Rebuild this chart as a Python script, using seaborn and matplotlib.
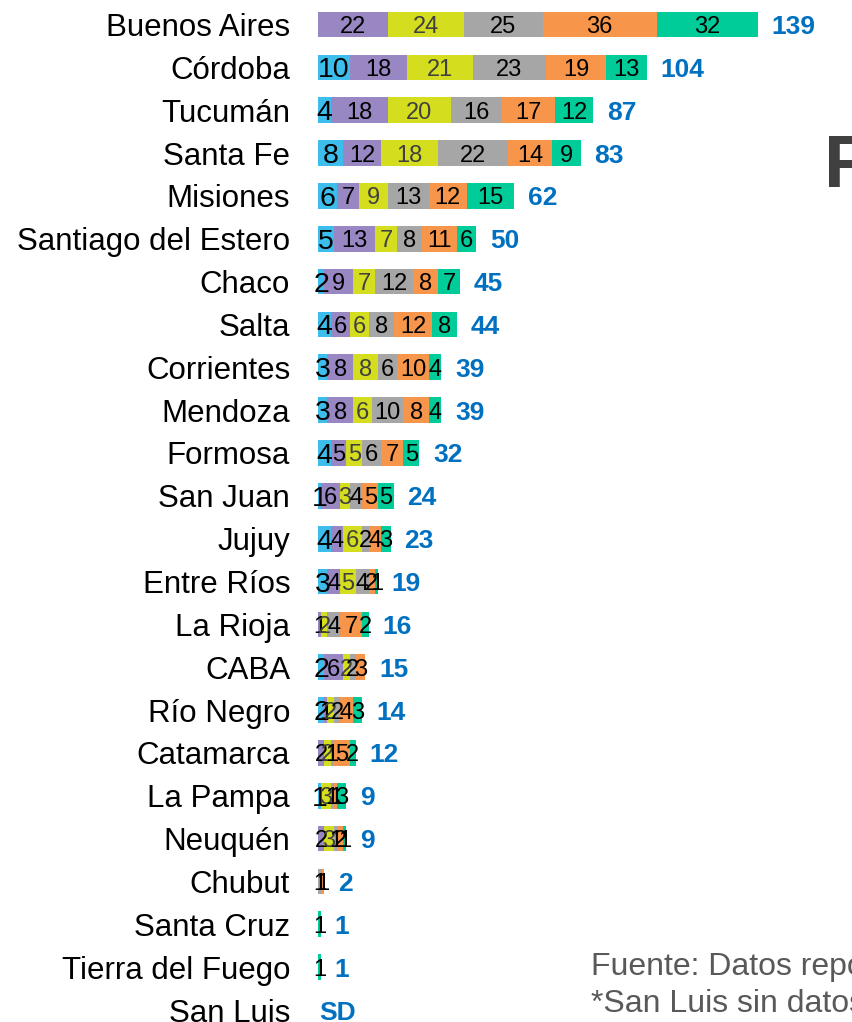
## Casos por provincia - barras horizontales apiladas

import numpy as np
import pandas as pd
import matplotlib
matplotlib.use('Agg')
import matplotlib.pyplot as plt
import seaborn as sns

# DATOS

provincias = ['Buenos Aires', 'Córdoba', 'Tucumán', 'Santa Fe', 'Misiones',
              'Santiago del Estero', 'Chaco', 'Salta', 'Corrientes', 'Mendoza',
              'Formosa', 'San Juan', 'Jujuy', 'Entre Ríos', 'La Rioja', 'CABA',
              'Río Negro', 'Catamarca', 'La Pampa', 'Neuquén', 'Chubut',
              'Santa Cruz', 'Tierra del Fuego', 'San Luis']

celeste  = [0, 10, 4, 8, 6, 5, 2, 4, 3, 3, 4, 1, 4, 3, 0, 2, 2, 0, 1, 0, 0, 0, 0, 0]
violeta  = [22, 18, 18, 12, 7, 13, 9, 6, 8, 8, 5, 6, 4, 4, 1, 6, 1, 2, 0, 2, 0, 0, 0, 0]
amarillo = [24, 21, 20, 18, 9, 7, 7, 6, 8, 6, 5, 3, 6, 5, 2, 2, 2, 2, 3, 3, 0, 0, 0, 0]
gris     = [25, 23, 16, 22, 13, 8, 12, 8, 6, 10, 6, 4, 2, 4, 4, 2, 2, 1, 1, 1, 1, 0, 0, 0]
naranja  = [36, 19, 17, 14, 12, 11, 8, 12, 10, 8, 7, 5, 4, 2, 7, 3, 4, 5, 1, 2, 1, 0, 0, 0]
verde    = [32, 13, 12, 9, 15, 6, 7, 8, 4, 4, 5, 5, 3, 1, 2, 0, 3, 2, 3, 1, 0, 1, 1, 0]

sin_dato = ['San Luis']

# ESTILO

cols = ['celeste', 'violeta', 'amarillo', 'gris', 'naranja', 'verde']
colores = ['#3cbdec', '#9887c2', '#d4de1f', '#a6a6a6', '#f7964a', '#00cc99']
color_texto = ['black', 'black', '#404040', 'black', 'black', 'black']
tam_texto = [20.5, 17, 17, 17, 17, 17]

df = pd.DataFrame({'provincia': provincias,
                   'celeste': celeste, 'violeta': violeta, 'amarillo': amarillo,
                   'gris': gris, 'naranja': naranja, 'verde': verde})

acum = df[cols].cumsum(axis=1)
acum['provincia'] = df['provincia']
total = df[cols].sum(axis=1)

sns.set_style('white')
plt.rcParams['font.family'] = ['Liberation Sans', 'DejaVu Sans']

fig = plt.figure(figsize=(8.53, 10.22), dpi=100)
ax = fig.add_axes([318 / 853, 0, 535 / 853, 1])

# apilado: se dibuja desde el acumulado total hacia atras
for i in range(len(cols) - 1, -1, -1):
    sns.barplot(data=acum, x=cols[i], y='provincia', color=colores[i],
                saturation=1, width=0.6, linewidth=0, orient='h', ax=ax)

# etiquetas de cada segmento
for i, col in enumerate(cols):
    for j, v in enumerate(df[col]):
        if v == 0:
            continue
        centro = acum.loc[j, col] - v / 2
        ax.text(centro, j, f'{v}', ha='center', va='center_baseline',
                fontsize=tam_texto[i], color=color_texto[i])

# totales
for j, prov in enumerate(provincias):
    if prov in sin_dato:
        ax.text(0.3, j, 'SD', ha='left', va='center_baseline',
                fontsize=19, fontweight='bold', color='#0070c0')
    else:
        ax.text(total[j] + 4.3, j, f'{total[j]}', ha='left', va='center_baseline',
                fontsize=19, fontweight='bold', color='#0070c0')

ax.set_xlim(0, 535 / 3.165)
ax.set_ylim(23.28, -0.572)
ax.set_xlabel('')
ax.set_ylabel('')
ax.set_xticks([])
ax.tick_params(axis='y', length=0, pad=20, labelsize=22.5, labelcolor='black')
sns.despine(left=True, bottom=True)

# titulo cortado y nota
fig.text(824 / 853, 1 - 187 / 1022, 'F', fontsize=54, fontweight='bold',
         color='#404040', ha='left', va='baseline')
fig.text(591 / 853, 1 - 975 / 1022, 'Fuente: Datos reportados', fontsize=23,
         color='#595959', ha='left', va='baseline')
fig.text(591 / 853, 1 - 1012 / 1022, '*San Luis sin datos', fontsize=23,
         color='#595959', ha='left', va='baseline')

fig.savefig('out.png', dpi=100, transparent=False)
